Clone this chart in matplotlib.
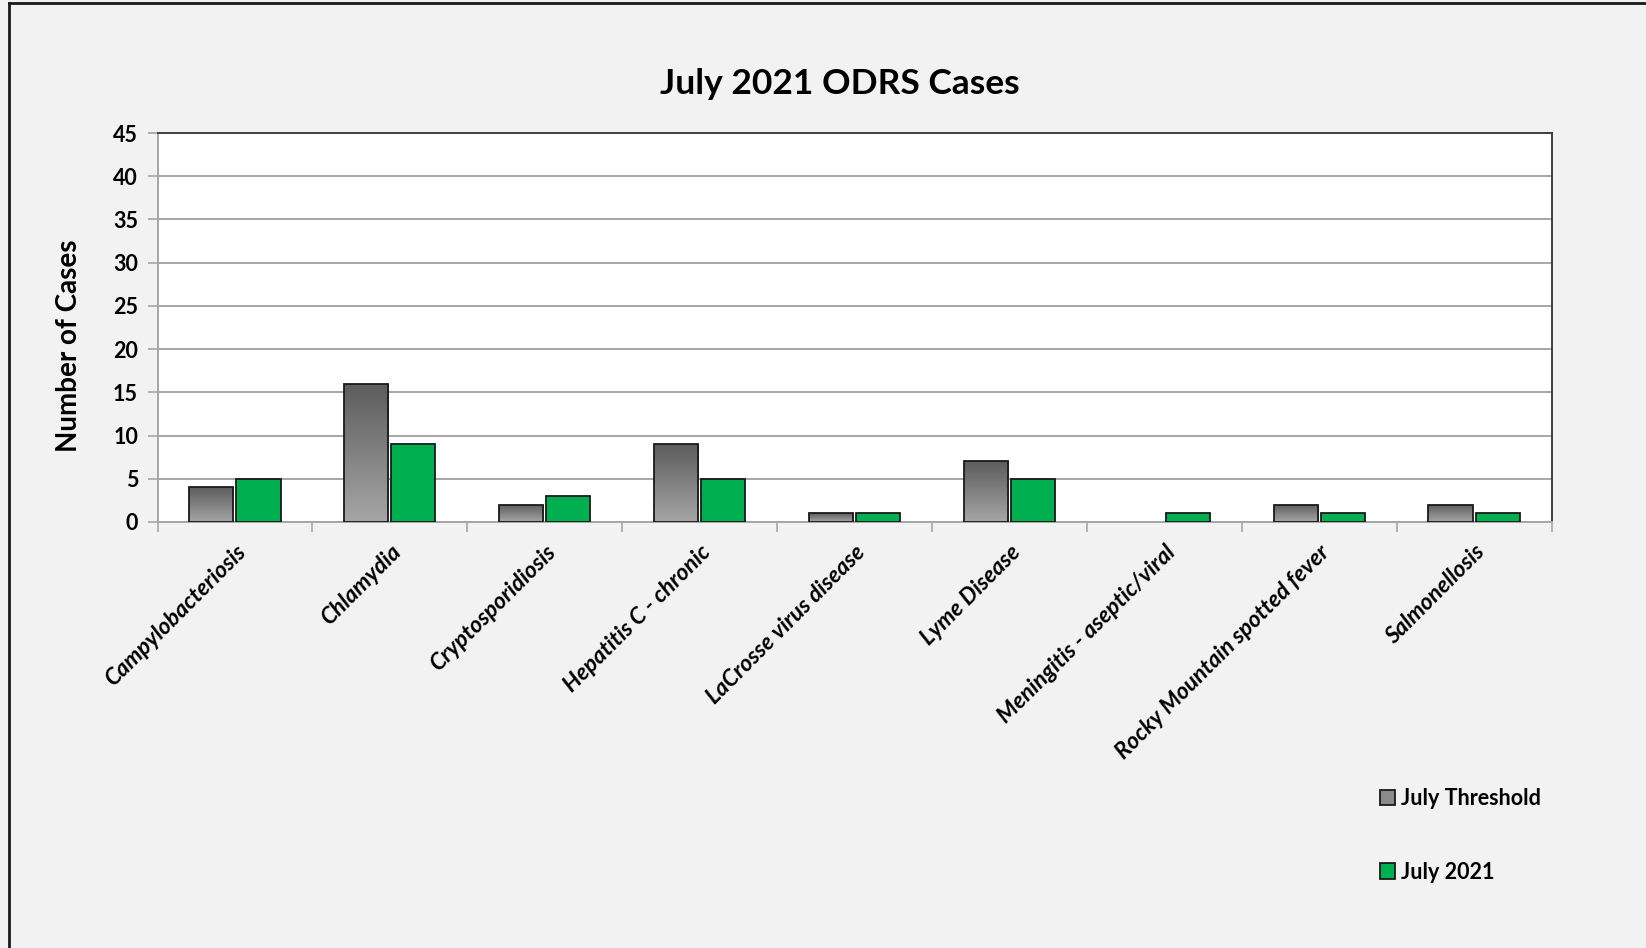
import matplotlib
matplotlib.use("Agg")
import matplotlib.pyplot as plt
import numpy as np
from matplotlib.patches import Patch
from matplotlib.colors import LinearSegmentedColormap

categories = ["Campylobacteriosis", "Chlamydia", "Cryptosporidiosis", "Hepatitis C - chronic",
              "LaCrosse virus disease", "Lyme Disease", "Meningitis - aseptic/viral",
              "Rocky Mountain spotted fever", "Salmonellosis"]
threshold = [4, 16, 2, 9, 1, 7, 0, 2, 2]
cases_2021 = [5, 9, 3, 5, 1, 5, 1, 1, 1]
series_names = ["July Threshold", "July 2021"]
yticks = [0, 5, 10, 15, 20, 25, 30, 35, 40, 45]

plt.rcParams['font.family'] = ['Lato', 'DejaVu Sans']

W, H = 1646, 948
fig = plt.figure(figsize=(W / 100, H / 100), dpi=100, facecolor='#f2f2f2')
ax = fig.add_axes([157.5 / W, 1 - 522 / H, (1551.5 - 157.5) / W, (522 - 133) / H])
ax.set_facecolor('white')

x = np.arange(len(categories))
bw = 0.285
off = 0.152
gray_cmap = LinearSegmentedColormap.from_list('g', ['#a6a6a6', '#5c5c5c'])
bars_t = ax.bar(x - off, threshold, bw, color='#808080', edgecolor='#1a1a1a', linewidth=1.3, zorder=3,
                label=series_names[0])
bars_c = ax.bar(x + off, cases_2021, bw, color='#00b050', edgecolor='#1a1a1a', linewidth=1.3, zorder=3,
                label=series_names[1])

grad = np.linspace(0, 1, 256).reshape(-1, 1)
for b in bars_t:
    h = b.get_height()
    if h <= 0:
        b.set_linewidth(0)
        b.set_facecolor('none')
        continue
    x0 = b.get_x()
    im = ax.imshow(grad, cmap=gray_cmap, origin='lower', aspect='auto',
                   extent=[x0, x0 + b.get_width(), 0, h], zorder=3.1)
    im.set_clip_path(b)
    b.set_facecolor('none')
    b.set_zorder(3.2)
for b in bars_c:
    if b.get_height() <= 0:
        b.set_linewidth(0)

ax.set_xlim(-0.5, len(categories) - 0.5)
ax.set_ylim(0, 45)
ax.set_yticks(yticks)
ax.set_yticklabels([str(v) for v in yticks], fontsize=15.5, fontweight='bold')
ax.yaxis.grid(True, color='#a6a6a6', linewidth=1.4, zorder=0)
ax.set_axisbelow(True)
ax.tick_params(axis='y', length=7, width=1.2, color='#a6a6a6', pad=7)

ax.set_xticks(x)
ax.set_xticklabels(categories, rotation=45, ha='right', rotation_mode='anchor',
                   fontsize=16.5, fontweight='bold', fontstyle='italic')
ax.tick_params(axis='x', length=0, pad=14)
ax.set_xticks(np.arange(len(categories) + 1) - 0.5, minor=True)
ax.tick_params(axis='x', which='minor', length=7, width=1.2, color='#a6a6a6')

for s in ['left', 'bottom']:
    ax.spines[s].set_color('#a6a6a6')
    ax.spines[s].set_linewidth(1.4)
for s in ['top', 'right']:
    ax.spines[s].set_color('#404040')
    ax.spines[s].set_linewidth(1.4)

ax.set_ylabel("Number of Cases", fontsize=20, fontweight='bold')
ax.yaxis.set_label_coords(82 / W, 1 - 346 / H, transform=fig.transFigure)

fig.text(840 / W, 1 - 84 / H, "July 2021 ODRS Cases", fontsize=25.5, fontweight='bold',
         ha='center', va='center')

handles = [Patch(facecolor='#8a8a8a', edgecolor='#1a1a1a', linewidth=1.3),
           Patch(facecolor='#00b050', edgecolor='#1a1a1a', linewidth=1.3)]
leg = fig.legend(handles, series_names, loc='upper left', bbox_to_anchor=(1369 / W, 1 - 777 / H),
                 frameon=False, prop={'weight': 'bold', 'size': 15.5}, labelspacing=2.45,
                 handlelength=0.7, handleheight=0.7, handletextpad=0.3, borderpad=0)

# outer frame (left and top edges of screenshot)
fig.add_artist(plt.Line2D([9 / W, 9 / W], [0, 1 - 3 / H], transform=fig.transFigure, color='#1a1a1a', linewidth=2))
fig.add_artist(plt.Line2D([9 / W, 1], [1 - 3 / H, 1 - 3 / H], transform=fig.transFigure, color='#1a1a1a', linewidth=2))

fig.savefig("out.png", dpi=100, facecolor=fig.get_facecolor())
